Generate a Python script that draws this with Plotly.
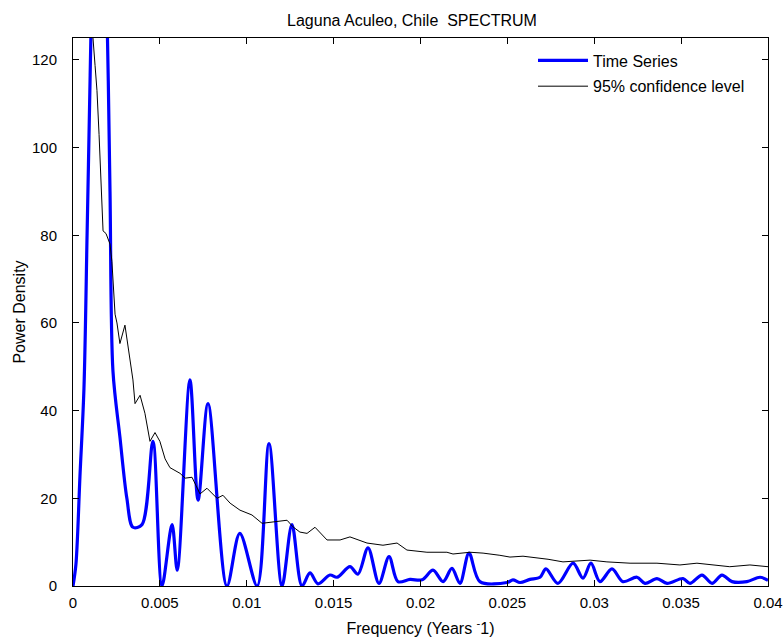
import plotly.graph_objects as go

# Time series spectrum (blue)
ts_freq = [0.0, 0.00017, 0.0004, 0.00063, 0.00081, 0.00098, 0.0011, 0.00155, 0.00196, 0.00213,
           0.0023, 0.0027, 0.0031, 0.00345, 0.00397, 0.0046, 0.00512, 0.0057, 0.006, 0.00673,
           0.0072, 0.00777, 0.00886, 0.0096, 0.0106, 0.01128, 0.01203, 0.0126, 0.01318, 0.01364,
           0.0141, 0.01479, 0.0152, 0.01594, 0.0164, 0.01698, 0.01761, 0.01819, 0.0187, 0.0194,
           0.02009, 0.02072, 0.0213, 0.02181, 0.02227, 0.02279, 0.02342, 0.02498, 0.02532, 0.02573,
           0.0263, 0.02688, 0.02722, 0.02791, 0.02878, 0.02935, 0.02981, 0.03033, 0.03102, 0.03165,
           0.03246, 0.03292, 0.03361, 0.03419, 0.03511, 0.03551, 0.0362, 0.03678, 0.03735, 0.03793,
           0.03879, 0.03954, 0.04]
ts_power = [0, 5, 25, 45, 80, 115, 140, 190, 130, 90,
            49, 34, 20, 13.4, 14, 33, 0, 14, 3.6, 47,
            19.6, 41.6, 0, 12, 0, 32.5, 0, 14, 0, 3,
            0.5, 2.5, 2, 4.4, 2.7, 8.7, 0.6, 6.7, 1, 1.5,
            1.4, 3.6, 1, 4, 0.6, 7.5, 1, 0.8, 1.4, 0.8,
            1.5, 2, 3.9, 0.6, 5.2, 1.8, 5.2, 1, 3.9, 1,
            2, 0.6, 1.7, 0.6, 1.7, 0.6, 2.5, 0.6, 2.5, 1,
            1, 2, 1.3]

# 95% confidence level (black)
ci_freq = [0.00098, 0.00115, 0.00127, 0.00138, 0.0015, 0.00161, 0.00167, 0.00173, 0.0019, 0.00213,
           0.00224, 0.00242, 0.00253, 0.0027, 0.00299, 0.00317, 0.00334, 0.00345, 0.00357, 0.00386,
           0.00414, 0.00443, 0.00472, 0.005, 0.0053, 0.00558, 0.00616, 0.00645, 0.00685, 0.00731,
           0.00771, 0.00829, 0.00863, 0.00904, 0.00961, 0.0103, 0.01088, 0.01145, 0.01232, 0.01266,
           0.01306, 0.01347, 0.01393, 0.01462, 0.01537, 0.01594, 0.01692, 0.01784, 0.01865, 0.01922,
           0.02037, 0.02152, 0.02187, 0.02285, 0.0236, 0.02457, 0.02515, 0.0259, 0.02734, 0.0282,
           0.02976, 0.03073, 0.03206, 0.03361, 0.03493, 0.03591, 0.0378, 0.03896, 0.04]
ci_power = [140, 125, 118.7, 113, 103, 93, 85, 81, 80.4, 78,
            74, 62, 60, 55.3, 59.5, 55, 50, 47, 41.6, 43.5,
            39.4, 33, 35, 33, 29, 27, 25.7, 24.6, 24.8, 21,
            22.3, 20, 20.7, 18.9, 17.3, 16.2, 14.3, 14.6, 15, 13.5,
            12.3, 12, 13.4, 10.5, 10.5, 11.2, 9.8, 9.3, 9.8, 8.2,
            7.7, 7.7, 7.3, 7.7, 7.5, 7.0, 6.6, 6.8, 6.1, 5.5,
            5.9, 5.5, 5.2, 5.2, 4.8, 5.2, 4.4, 4.8, 4.4]

x_ticks = [0, 0.005, 0.01, 0.015, 0.02, 0.025, 0.03, 0.035, 0.04]
x_tick_labels = ["0", "0.005", "0.01", "0.015", "0.02", "0.025", "0.03", "0.035", "0.04"]
y_ticks = [0, 20, 40, 60, 80, 100, 120]

font = "Liberation Sans, Arial, sans-serif"
FS = 16
TFS = 15

fig = go.Figure()
fig.add_trace(go.Scatter(x=ts_freq, y=ts_power, mode="lines", name="Time Series",
                         legendgroup="a",
                         line=dict(color="#0000ff", width=3.2, shape="spline", smoothing=0.9)))
fig.add_trace(go.Scatter(x=ci_freq, y=ci_power, mode="lines", name="95% confidence level",
                         legendgroup="b",
                         line=dict(color="black", width=1)))

axis_common = dict(showline=True, linecolor="black", linewidth=1, mirror="ticks",
                   ticks="inside", ticklen=6, tickcolor="black", showgrid=False,
                   zeroline=False, automargin=False,
                   tickfont=dict(family=font, size=TFS, color="black"))

fig.update_layout(
    width=783, height=637,
    margin=dict(l=73, r=15, t=38, b=51),
    paper_bgcolor="white", plot_bgcolor="white",
    title=dict(text="Laguna Aculeo, Chile  SPECTRUM", x=412 / 783, xanchor="center",
               y=1 - 20 / 637, yanchor="middle", font=dict(family=font, size=FS, color="black")),
    xaxis=dict(range=[0, 0.04], tickvals=x_ticks, ticktext=x_tick_labels,
               ticklabelstandoff=3,
               title=dict(text="Frequency (Years <sup>-</sup>1)", standoff=12,
                          font=dict(family=font, size=FS, color="black")),
               **axis_common),
    yaxis=dict(range=[0, 125], tickvals=y_ticks, ticklabelstandoff=12,
               title=dict(text="Power Density", standoff=2,
                          font=dict(family=font, size=FS, color="black")),
               **axis_common),
    legend=dict(x=(533 - 73) / 695, xanchor="left", y=0.99, yanchor="top",
                bgcolor="rgba(0,0,0,0)", itemwidth=50, traceorder="grouped",
                tracegroupgap=2,
                font=dict(family=font, size=FS, color="black")),
    showlegend=True,
)

fig.write_html("out.html")
